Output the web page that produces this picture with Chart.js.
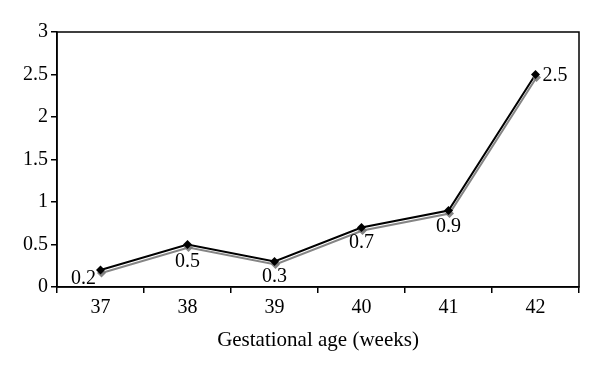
<!DOCTYPE html>
<html><head><meta charset="utf-8">
<script src="https://cdn.jsdelivr.net/npm/chart.js@4/dist/chart.umd.min.js"></script>
<style>html,body{margin:0;padding:0;background:#fff}#w{width:600px;height:374px}</style>
</head><body><div id="w"><canvas id="c"></canvas></div>
<script>
const categories = ["37","38","39","40","41","42"];
const values = [0.2, 0.5, 0.3, 0.7, 0.9, 2.5];
const valueLabels = ["0.2","0.5","0.3","0.7","0.9","2.5"];
const yTicks = [0, 0.5, 1, 1.5, 2, 2.5, 3];
const xTitle = "Gestational age (weeks)";
const FONT = "'Liberation Serif', 'DejaVu Serif', serif";

const shadow = {
  id: 'shadow',
  beforeDatasetDraw(chart){ const c=chart.ctx; c.save(); c.shadowColor='rgba(120,120,120,0.9)'; c.shadowOffsetX=1; c.shadowOffsetY=3; c.shadowBlur=0; },
  afterDatasetDraw(chart){ chart.ctx.restore(); }
};
const frame = {
  id: 'frame',
  beforeDatasetsDraw(chart){ const a=chart.chartArea, c=chart.ctx; c.save(); c.strokeStyle='#000'; c.lineWidth=1.5; c.strokeRect(a.left,a.top,a.right-a.left,a.bottom-a.top); c.restore(); }
};
const offsets = [[-17,9,'center'],[0,17,'center'],[0,15,'center'],[0,15,'center'],[0,16,'center'],[7,1,'left']];
const labels = {
  id: 'labels',
  afterDatasetsDraw(chart){
    const c=chart.ctx, meta=chart.getDatasetMeta(0);
    c.save(); c.font="20px "+FONT; c.fillStyle='#000'; c.textBaseline='middle';
    meta.data.forEach((p,i)=>{ const o=offsets[i]; c.textAlign=o[2]; c.fillText(valueLabels[i], p.x+o[0], p.y+o[1]); });
    c.restore();
  }
};

new Chart(document.getElementById('c'), {
  type: 'line',
  data: { labels: categories, datasets: [{
    data: values, borderColor:'#000', borderWidth:2, backgroundColor:'#000',
    pointStyle:'rectRot', pointRadius:4.5, pointBorderWidth:0, tension:0
  }]},
  plugins: [shadow, frame, labels],
  options: {
    responsive:true, maintainAspectRatio:false, animation:false,
    layout:{ padding:{ left:0, right:21, top:32, bottom:0 } },
    plugins:{ legend:{display:false}, tooltip:{enabled:false} },
    scales:{
      x:{ type:'category', offset:true,
        grid:{ offset:true, drawOnChartArea:false, drawTicks:true, tickLength:6, color:'#000', lineWidth:1.5 },
        border:{ display:true, color:'#000', width:1.5 },
        ticks:{ color:'#000', font:{family:FONT, size:20}, padding:3 },
        title:{ display:true, text:xTitle, color:'#000', font:{family:FONT, size:21}, padding:{top:4,bottom:21} },
        afterFit(s){ s.height = 374-287; }
      },
      y:{ min:0, max:3,
        afterBuildTicks(s){ s.ticks = yTicks.map(v=>({value:v})); },
        grid:{ drawOnChartArea:false, drawTicks:true, tickLength:6, color:'#000', lineWidth:1.5 },
        border:{ display:true, color:'#000', width:1.5 },
        ticks:{ color:'#000', font:{family:FONT, size:20}, padding:3, callback:v=>String(v) },
        afterFit(s){ s.width = 57; }
      }
    }
  }
});
</script></body></html>
